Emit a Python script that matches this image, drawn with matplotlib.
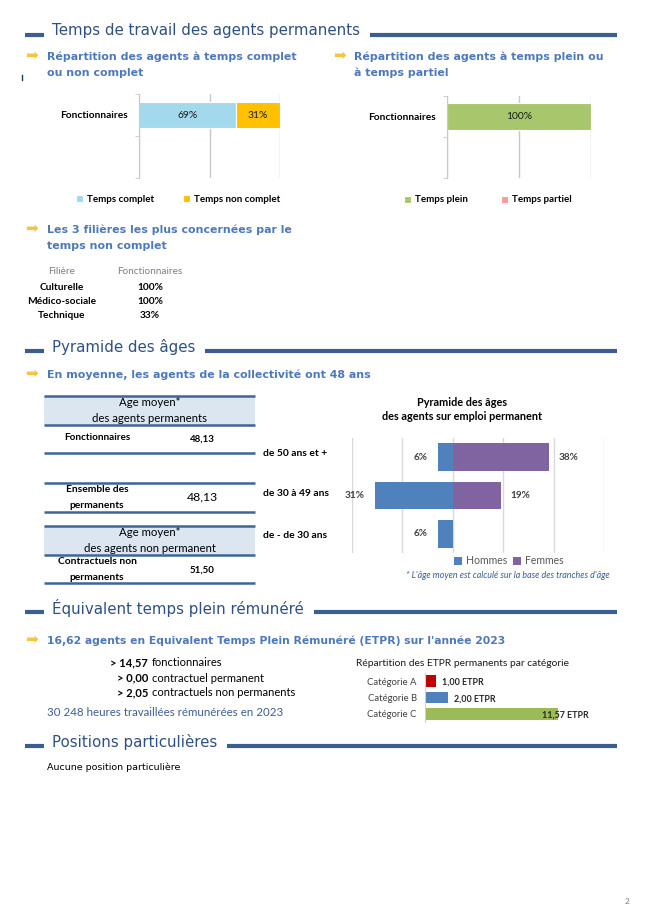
import matplotlib
matplotlib.use('Agg')
import matplotlib.pyplot as plt
from matplotlib.patches import Rectangle

W, H = 653, 924

# ---- data -------------------------------------------------------------
complet_labels = ['Temps complet', 'Temps non complet']
complet_values = [69, 31]
plein_labels = ['Temps plein', 'Temps partiel']
plein_values = [100, 0]
statut = ['Fonctionnaires']

filieres = ['Culturelle', 'Médico-sociale', 'Technique']
filieres_pct = ['100%', '100%', '33%']

age_moyen_fonct = '48,13'
age_moyen_ensemble = '48,13'
age_moyen_contract = '51,50'

age_groups = ['de 50 ans et +', 'de 30 à 49 ans', 'de - de 30 ans']
hommes_pct = [6, 31, 6]
femmes_pct = [38, 19, 0]

etpr_lines = [('> 14,57', 'fonctionnaires'),
              ('> 0,00', 'contractuel permanent'),
              ('> 2,05', 'contractuels non permanents')]
etpr_cats = ['Catégorie A', 'Catégorie B', 'Catégorie C']
etpr_values = [1.00, 2.00, 11.57]

# ---- style ------------------------------------------------------------
TITLE_FONT = 'DejaVu Sans'
BODY_FONT = 'Lato'
DARK = '#2f5083'
LINE = '#3b5e91'
SUB = '#4d78b9'
YELLOW = '#f6c343'
GRID = '#c8c8c8'

fig = plt.figure(figsize=(W / 100, H / 100), dpi=100)
bg = fig.add_axes([0, 0, 1, 1])
bg.set_xlim(0, W)
bg.set_ylim(H, 0)
bg.axis('off')


def px_axes(x0, y0, x1, y1):
    return fig.add_axes([x0 / W, 1 - y1 / H, (x1 - x0) / W, (y1 - y0) / H])


def section(y, title):
    t = bg.text(52, y, title, fontsize=10.8, color=DARK, family=TITLE_FONT,
                va='center', ha='left')
    fig.canvas.draw()
    x_end = t.get_window_extent().x1
    bg.plot([25, 44], [y + 4, y + 4], color=LINE, lw=3, solid_capstyle='butt')
    bg.plot([x_end + 10, 617], [y + 4, y + 4], color=LINE, lw=3,
            solid_capstyle='butt')


def subhead(x, y, lines, size=7.9):
    bg.text(x - 15, y - 2, '➡', fontsize=11, color=YELLOW, family='DejaVu Sans',
            va='center', ha='center')
    for i, s in enumerate(lines):
        bg.text(x, y + i * 16, s, fontsize=size, color=SUB, family=TITLE_FONT,
                fontweight='bold', va='center', ha='left')


def body(x, y, s, size=7, bold=False, color='black', ha='center', **kw):
    bg.text(x, y, s, fontsize=size, color=color, family=BODY_FONT,
            fontweight='bold' if bold else 'normal', va='center', ha=ha, **kw)


def stacked_bar(ax, values, labels, colors):
    left = 0
    for v, lab, c in zip(values, labels, colors):
        ax.barh([1], [v], left=left, height=0.64, color=c, label=lab,
                edgecolor='white', linewidth=0.8)
        if v > 0:
            ax.text(left + v / 2, 1, f'{v}%', ha='center', va='center',
                    fontsize=7.4, family=BODY_FONT, color='#1a1a1a')
        left += v
    ax.set_xlim(0, 100)
    ax.set_ylim(-0.5, 1.5)
    ax.set_xticks([0, 50, 100])
    ax.grid(axis='x', color=GRID, lw=1)
    ax.set_axisbelow(True)
    ax.set_yticks([1])
    ax.set_yticklabels(statut, family=BODY_FONT, fontweight='bold', fontsize=7.3)
    ax.set_yticks([-0.5, 0.5, 1.5], minor=True)
    ax.tick_params(axis='y', which='major', length=0, pad=8)
    ax.tick_params(axis='y', which='minor', length=3, color=GRID)
    ax.tick_params(axis='x', length=0, labelbottom=False)
    for s in ['top', 'right', 'bottom']:
        ax.spines[s].set_visible(False)
    ax.spines['left'].set_color(GRID)


def legend_at(ax, cx, cy, spacing, color='black', bold=True, size=7):
    leg = ax.legend(loc='center', bbox_to_anchor=(cx / W, 1 - cy / H),
                    bbox_transform=fig.transFigure, ncol=2, frameon=False,
                    handlelength=0.75, handleheight=0.75, handletextpad=0.4,
                    columnspacing=spacing,
                    prop={'family': BODY_FONT, 'size': size,
                          'weight': 'bold' if bold else 'normal'})
    for t in leg.get_texts():
        t.set_color(color)


# ---- section 1: temps de travail --------------------------------------
section(31, 'Temps de travail des agents permanents')
bg.plot([22, 22], [75, 80], color='#1f3864', lw=1)
subhead(47, 57, ['Répartition des agents à temps complet', 'ou non complet'])
subhead(354, 57, ['Répartition des agents à temps plein ou', 'à temps partiel'])

ax1 = px_axes(139, 94, 280, 178)
stacked_bar(ax1, complet_values, complet_labels, ['#a3d9ec', '#ffc000'])
legend_at(ax1, 178, 199, 3.0)

ax2 = px_axes(447, 96, 591, 178)
stacked_bar(ax2, plein_values, plein_labels, ['#a8c66c', '#ff9999'])
legend_at(ax2, 488, 200, 3.4)

subhead(47, 230, ['Les 3 filières les plus concernées par le', 'temps non complet'])
body(62, 272, 'Filière', size=7.2, color='#7f7f7f')
body(150, 272, 'Fonctionnaires', size=7.2, color='#7f7f7f')
for i, (f, p) in enumerate(zip(filieres, filieres_pct)):
    body(62, 287 + i * 14.5, f, size=7.3, bold=True)
    body(150, 287 + i * 14.5, p, size=7.3, bold=True)

# ---- section 2: pyramide des ages -------------------------------------
section(347, 'Pyramide des âges')
subhead(47, 375, ['En moyenne, les agents de la collectivité ont 48 ans'])

for y0, y1 in [(396, 425), (526, 555)]:
    bg.add_patch(Rectangle((44, y0), 211, y1 - y0, color='#dce6f1', lw=0))
for y in [396, 425, 453, 483, 512, 526, 555, 583]:
    bg.plot([44, 255], [y, y], color='#3f6496', lw=1.8, solid_capstyle='butt')

body(150, 403, 'Age moyen*', size=8.2)
body(150, 418, 'des agents permanents', size=8.2)
body(97, 438, 'Fonctionnaires', size=7.2, bold=True)
body(202, 439, age_moyen_fonct, size=7, bold=True)
body(97, 489, 'Ensemble des', size=7.4, bold=True)
body(97, 505, 'permanents', size=7.4, bold=True)
body(202, 497, age_moyen_ensemble, size=8.8)
body(150, 532, 'Age moyen*', size=8.2)
body(150, 548, 'des agents non permanent', size=8.2)
body(97, 562, 'Contractuels non', size=7.4, bold=True)
body(97, 577, 'permanents', size=7.4, bold=True)
body(202, 570, age_moyen_contract, size=7, bold=True)

for y, g in zip([453, 494, 536], age_groups):
    body(263, y, g, size=7.4, bold=True, ha='left')

body(462, 403, 'Pyramide des âges', size=7.8, bold=True)
body(462, 417, 'des agents sur emploi permanent', size=7.8, bold=True)

ax3 = px_axes(352, 438, 604, 553)
ypos = [2, 1, 0]
bh = ax3.barh(ypos, [-v for v in hommes_pct], height=0.73, color='#4f81bd',
              label='Hommes')
bf = ax3.barh(ypos, femmes_pct, height=0.73, color='#8064a2', label='Femmes')
ax3.bar_label(bh, labels=[f'{v}%' for v in hommes_pct], padding=7,
              fontsize=7.2, family=BODY_FONT, fontweight='bold', color='#404040')
ax3.bar_label(bf, labels=[f'{v}%' if v else '' for v in femmes_pct], padding=7,
              fontsize=7.2, family=BODY_FONT, fontweight='bold', color='#404040')
ax3.set_xlim(-40, 60)
ax3.set_ylim(-0.5, 2.5)
ax3.set_xticks(range(-40, 61, 20))
ax3.grid(axis='x', color='#d9d9d9', lw=1)
ax3.set_axisbelow(True)
ax3.tick_params(length=0, labelbottom=False, labelleft=False)
for s in ax3.spines.values():
    s.set_visible(False)
legend_at(ax3, 509, 561, 0.5, color='#595959', bold=False, size=7.6)

body(508, 576, "* L'âge moyen est calculé sur la base des tranches d'âge",
     size=6.4, color=LINE, style='italic')

# ---- section 3: ETPR ---------------------------------------------------
section(608, 'Équivalent temps plein rémunéré')
subhead(47, 641, ["16,62 agents en Equivalent Temps Plein Rémunéré (ETPR) sur l'année 2023"],
        size=7.75)
for i, (num, lab) in enumerate(etpr_lines):
    body(148, 663 + i * 15, num, size=8, bold=True, ha='right')
    body(152, 663 + i * 15, lab, size=8, ha='left')
body(47, 713, '30 248 heures travaillées rémunérées en 2023', size=8.3,
     color=LINE, ha='left')

body(462, 664, 'Répartition des ETPR permanents par catégorie', size=7.4,
     color='#1a1a1a')
ax4 = px_axes(425, 673, 597, 722)
ypos = [2, 1, 0]
ax4.barh(ypos, etpr_values, height=0.72, color=['#c00000', '#4f81bd', '#9bbb59'])
label_offsets = [4.3, 4.3, -11.5]
for y, v, off in zip(ypos, etpr_values, label_offsets):
    ax4.annotate(f'{v:.2f} ETPR'.replace('.', ','), xy=(v, y), xytext=(off, -1),
                 textcoords='offset points', ha='left', va='center',
                 fontsize=6.4, family=BODY_FONT, fontweight='bold', color='#262626')
ax4.set_xlim(0, 15)
ax4.set_ylim(-0.5, 2.5)
ax4.set_yticks(ypos)
ax4.set_yticklabels(etpr_cats, family=BODY_FONT, fontsize=6.8, color='#404040')
ax4.tick_params(axis='y', length=0, pad=6)
ax4.tick_params(axis='x', length=0, labelbottom=False)
for s in ['top', 'right', 'bottom']:
    ax4.spines[s].set_visible(False)
ax4.spines['left'].set_color('#d0d0d0')

# ---- section 4 ---------------------------------------------------------
section(742, 'Positions particulières')
bg.text(47, 767, 'Aucune position particulière', fontsize=6.8, color='black',
        family=TITLE_FONT, va='center')

bg.text(625, 902, '2', fontsize=6, color='#7f7f7f', family=BODY_FONT, va='center')

fig.savefig('out.png', dpi=100)
